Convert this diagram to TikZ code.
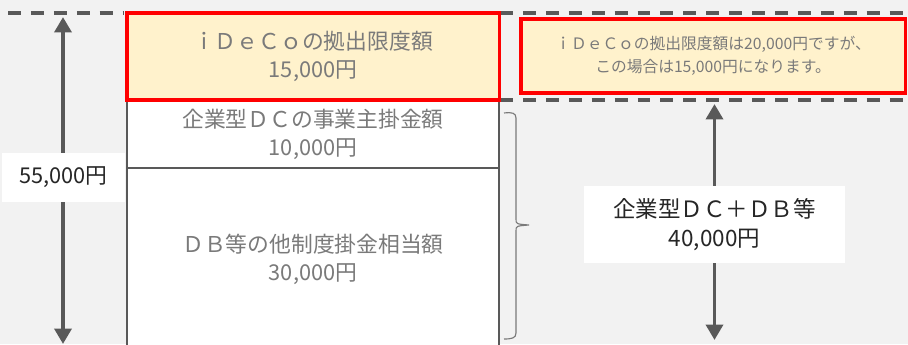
\documentclass[tikz,border=0pt]{standalone}
\usepackage{fontspec}
\setmainfont{Noto Sans CJK JP}
\definecolor{BgGray}{HTML}{F2F2F2}
\definecolor{LineGray}{HTML}{595959}
\definecolor{TextGray}{HTML}{7A7A7A}
\definecolor{DarkText}{HTML}{262626}
\definecolor{LimitYellow}{HTML}{FFF2CC}
\definecolor{LimitRed}{HTML}{FF0000}
\usetikzlibrary{arrows.meta, positioning}

\begin{document}
\begin{tikzpicture}[x=0.025cm, y=-0.025cm,
    layer/.style={draw=LineGray, line width=1.8pt, fill=white, minimum width=9.3cm,
      text=TextGray, align=center, font=\fontsize{15.5}{20}\selectfont, inner sep=0pt},
    limitbox/.style={draw=LimitRed, line width=2.2pt, fill=LimitYellow, inner sep=0pt,
      text=TextGray, align=center},
    levelline/.style={LineGray, line width=2.3pt, dash pattern=on 9.2pt off 7.1pt},
    amountlabel/.style={fill=white, inner sep=0pt, align=center, text=DarkText},
    span/.style={LineGray, line width=2.8pt, -{Triangle[width=12pt, length=11pt]}}]

    \useasboundingbox (0,0) rectangle (908,344);
    \clip (0,0) rectangle (908,344);
    \fill[BgGray] (0,0) rectangle (908,344);

    % Level lines
    \draw[levelline] (8,13) -- (124,13);
    \draw[levelline] (500,13) -- (908,13);
    \draw[levelline] (500,100) -- (908,100);

    % Contribution layers
    \node[layer, minimum height=4.55cm] (other) at (313,259) {ＤＢ等の他制度掛金相当額\\30,000円};
    \node[layer, minimum height=1.7cm] (employer) at (313,134) {企業型ＤＣの事業主掛金額\\10,000円};
    \node[limitbox, minimum width=9.3cm, minimum height=2.175cm,
      font=\fontsize{15.5}{20}\selectfont] (ideco) at (313,56.5) {ｉＤｅＣｏの拠出限度額\\15,000円};

    % Note
    \node[limitbox, minimum width=9.6cm, minimum height=1.85cm,
      font=\fontsize{11.2}{16}\selectfont] (note) at (713,56) {ｉＤｅＣｏの拠出限度額は20,000円ですが、\\この場合は15,000円になります。};

    % Brace
    \draw[TextGray, line width=0.8pt]
      (504,113) .. controls (512,112) and (516,113) .. (516,118) -- (516,219)
      .. controls (516,224) .. (529,225)
      .. controls (516,226) .. (516,231) -- (516,333)
      .. controls (516,338) and (512,339) .. (504,339);

    % Total 55,000
    \node[amountlabel, minimum width=3.075cm, minimum height=1.225cm,
      font=\fontsize{15.5}{20}\selectfont] (total) at (63.5,177.5) {55,000円};
    \coordinate (totaltop) at (63,17);
    \coordinate (totalbottom) at (63,344);
    \draw[span] (total.north -| totaltop) -- (totaltop);
    \draw[span] (total.south -| totalbottom) -- (totalbottom);

    % Company DC + DB 40,000
    \node[amountlabel, minimum width=6.525cm, minimum height=1.925cm,
      font=\fontsize{16}{21}\selectfont] (company) at (714.5,224.5) {企業型ＤＣ＋ＤＢ等\\40,000円};
    \coordinate (companytop) at (714.5,104);
    \coordinate (companybottom) at (714.5,340);
    \draw[span] (company) -- (companytop);
    \draw[span] (company) -- (companybottom);
\end{tikzpicture}
\end{document}
